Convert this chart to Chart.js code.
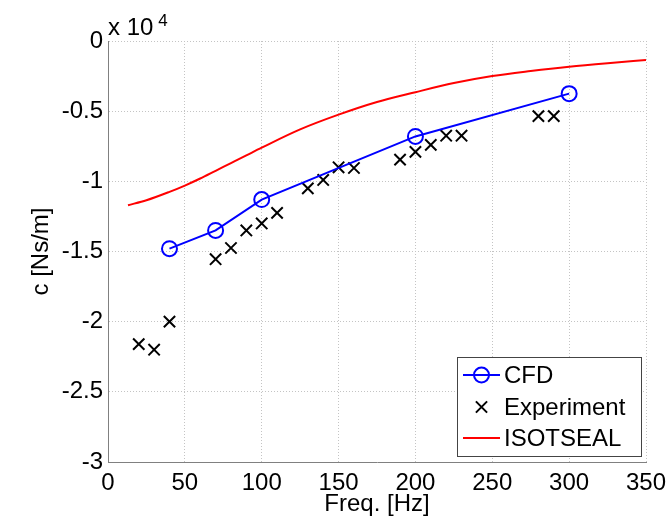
<!DOCTYPE html>
<html>
<head>
<meta charset="utf-8">
<script src="https://cdn.jsdelivr.net/npm/chart.js@4.4.1/dist/chart.umd.min.js"></script>
<style>
  html, body { margin: 0; padding: 0; background: #fff; }
</style>
</head>
<body>
<canvas id="chart" width="671" height="519"></canvas>
<script>
// damping c in units of 1e4 Ns/m
var cfdFreq = [40, 70, 100, 200, 300];
var cfdDamp = [-1.48, -1.35, -1.13, -0.68, -0.375];

var expFreq = [20, 30, 40, 70, 80, 90, 100, 110, 130, 140, 150, 160, 190, 200, 210, 220, 230, 280, 290];
var expDamp = [-2.16, -2.20, -2.00, -1.555, -1.475, -1.35, -1.30, -1.225, -1.05, -0.99, -0.90, -0.905,
               -0.845, -0.79, -0.74, -0.675, -0.675, -0.535, -0.535];

var isoFreq = [13, 25, 40, 50, 60, 70, 80, 90, 100, 125, 150, 175, 200, 225, 250, 275, 300, 325, 350];
var isoDamp = [-1.17, -1.135, -1.075, -1.03, -0.98, -0.925, -0.87, -0.815, -0.76, -0.63, -0.525,
               -0.435, -0.365, -0.30, -0.25, -0.214, -0.183, -0.158, -0.136];

var xTicks = [0, 50, 100, 150, 200, 250, 300, 350];
var yTicks = [-3, -2.5, -2, -1.5, -1, -0.5, 0];

var FONT = '"Liberation Sans", Arial, Helvetica, sans-serif';

function pts(xs, ys) {
    return xs.map(function (x, i) { return { x: x, y: ys[i] }; });
}

/**
 * White background, exponent label and the boxed legend
 */
var decor = {
    id: 'decor',
    beforeDraw: function (chart) {
        var ctx = chart.ctx;
        ctx.save();
        ctx.fillStyle = '#fff';
        ctx.fillRect(0, 0, chart.width, chart.height);
        ctx.restore();
    },
    afterDraw: function (chart) {
        var ctx = chart.ctx, a = chart.chartArea;
        ctx.save();

        // x 10^4
        ctx.fillStyle = '#000';
        ctx.textBaseline = 'alphabetic';
        ctx.textAlign = 'left';
        ctx.font = '24px ' + FONT;
        ctx.fillText('x 10', a.left, a.top - 6);
        var w = ctx.measureText('x 10').width;
        ctx.font = '17px ' + FONT;
        ctx.fillText('4', a.left + w + 5, a.top - 15);

        // legend
        var bw = 184, bh = 99;
        var bx = a.right - 5 - bw, by = a.bottom - 6 - bh;
        ctx.fillStyle = '#fff';
        ctx.fillRect(bx, by, bw, bh);
        ctx.strokeStyle = '#444';
        ctx.lineWidth = 1;
        ctx.strokeRect(Math.round(bx) + 0.5, Math.round(by) + 0.5, bw, bh);

        var ds = chart.data.datasets;
        var rows = [18, 50, 81];
        var x0 = bx + 6, x1 = bx + 43, xm = (x0 + x1) / 2;
        ds.forEach(function (d, i) {
            var y = by + rows[i];
            ctx.strokeStyle = d.borderColor;
            ctx.lineWidth = 2;
            if (d.showLine) {
                ctx.beginPath();
                ctx.moveTo(x0, y);
                ctx.lineTo(x1, y);
                ctx.stroke();
            }
            if (d.pointStyle === 'circle' && d.pointRadius > 0) {
                ctx.beginPath();
                ctx.arc(xm, y, d.pointRadius, 0, Math.PI * 2);
                ctx.stroke();
            }
            if (d.pointStyle === 'crossRot') {
                var r = d.pointRadius;
                ctx.beginPath();
                ctx.moveTo(xm - r * 0.7, y - r * 0.7);
                ctx.lineTo(xm + r * 0.7, y + r * 0.7);
                ctx.moveTo(xm + r * 0.7, y - r * 0.7);
                ctx.lineTo(xm - r * 0.7, y + r * 0.7);
                ctx.stroke();
            }
            ctx.fillStyle = '#000';
            ctx.font = '24px ' + FONT;
            ctx.textBaseline = 'middle';
            ctx.fillText(d.label, bx + 47, y + 1);
        });
        ctx.restore();
    }
};

var ctx = document.getElementById('chart').getContext('2d');

new Chart(ctx, {
    type: 'scatter',
    data: {
        datasets: [
            {
                label: 'CFD',
                data: pts(cfdFreq, cfdDamp),
                showLine: true,
                borderColor: '#0000ff',
                borderWidth: 2,
                pointStyle: 'circle',
                pointRadius: 7.5,
                pointBorderWidth: 2,
                pointBackgroundColor: 'rgba(0,0,0,0)',
                pointBorderColor: '#0000ff',
                order: 1
            },
            {
                label: 'Experiment',
                data: pts(expFreq, expDamp),
                showLine: false,
                borderColor: '#000',
                pointStyle: 'crossRot',
                pointRadius: 8,
                pointBorderWidth: 2,
                pointBorderColor: '#000',
                order: 2
            },
            {
                label: 'ISOTSEAL',
                data: pts(isoFreq, isoDamp),
                showLine: true,
                borderColor: '#ff0000',
                borderWidth: 2,
                pointStyle: 'circle',
                pointRadius: 0,
                cubicInterpolationMode: 'monotone',
                order: 3
            }
        ]
    },
    options: {
        responsive: false,
        animation: false,
        layout: { padding: { left: 0, right: 25, top: 41, bottom: 0 } },
        plugins: {
            legend: { display: false },
            tooltip: { enabled: false }
        },
        scales: {
            x: {
                type: 'linear',
                min: 0,
                max: 350,
                afterBuildTicks: function (scale) {
                    scale.ticks = xTicks.map(function (v) { return { value: v }; });
                },
                afterFit: function (scale) {
                    scale.height = 57;
                    scale.paddingLeft = 0; scale.paddingRight = 0;
                },
                ticks: {
                    color: '#000',
                    padding: 7,
                    maxRotation: 0,
                    autoSkip: false,
                    font: { family: FONT, size: 24 },
                    callback: function (v) { return String(v); }
                },
                grid: { color: '#c4c4c4', lineWidth: 1, drawTicks: false },
                border: { display: true, color: '#808080', width: 1, dash: [1, 2] },
                title: {
                    display: true,
                    text: 'Freq. [Hz]',
                    color: '#000',
                    font: { family: FONT, size: 24 },
                    padding: { top: 0, bottom: 0 }
                }
            },
            y: {
                type: 'linear',
                min: -3,
                max: 0,
                afterBuildTicks: function (scale) {
                    scale.ticks = yTicks.map(function (v) { return { value: v }; });
                },
                afterFit: function (scale) {
                    scale.width = 108;
                    scale.paddingTop = 0; scale.paddingBottom = 0;
                },
                ticks: {
                    color: '#000',
                    padding: 5,
                    autoSkip: false,
                    font: { family: FONT, size: 24 },
                    callback: function (v) { return String(v); }
                },
                grid: { color: '#c4c4c4', lineWidth: 1, drawTicks: false },
                border: { display: true, color: '#808080', width: 1, dash: [1, 2] },
                title: {
                    display: true,
                    text: 'c [Ns/m]',
                    color: '#000',
                    font: { family: FONT, size: 24 },
                    padding: { top: 27, bottom: 0 }
                }
            }
        }
    },
    plugins: [decor]
});
</script>
</body>
</html>
